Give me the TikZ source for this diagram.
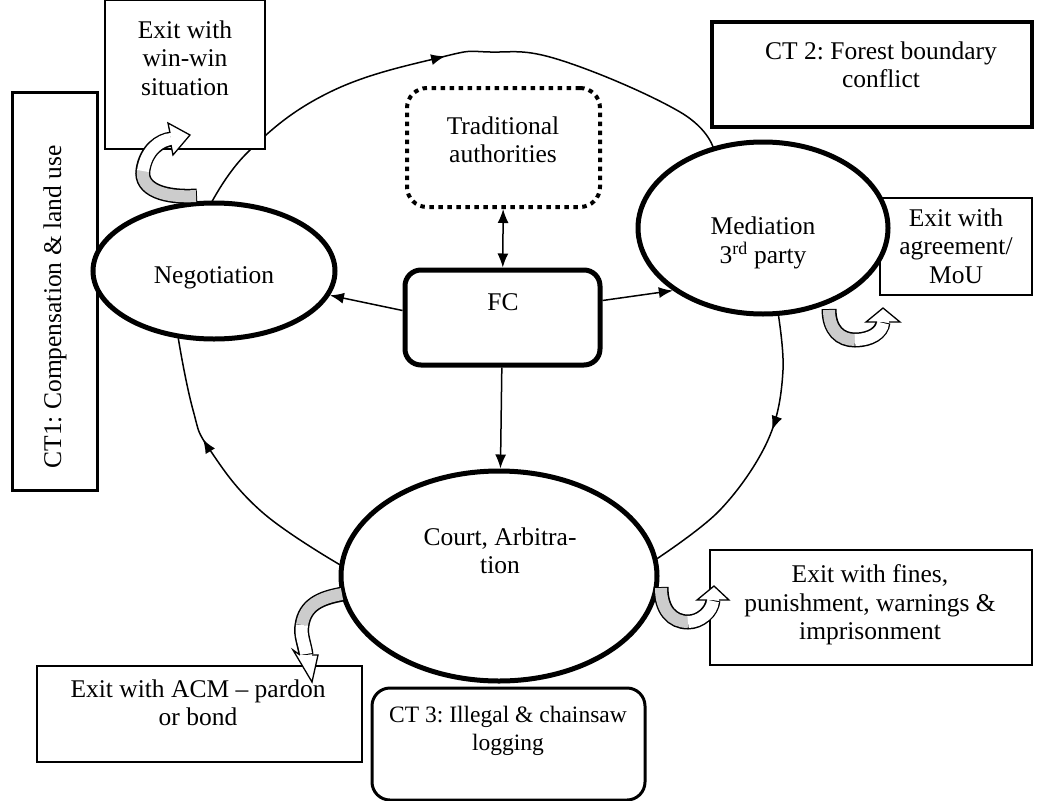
\documentclass[tikz,border=0pt]{standalone}
\usepackage{fontspec}
\setmainfont{Liberation Serif}
\usetikzlibrary{arrows.meta,decorations.markings,shapes.geometric}
\frenchspacing
\begin{document}
\begin{tikzpicture}[x=1pt,y=-1pt,
  txt/.style={font=\fontsize{25.5}{28.5}\selectfont, align=center, inner sep=0pt},
  thinbox/.style={draw, line width=1.5pt, fill=white, inner sep=0pt},
  thickbox/.style={draw, line width=3.5pt, fill=white, inner sep=0pt},
  ell/.style={draw, ellipse, line width=5pt, fill=white, inner sep=0pt},
  cyc/.style={line width=1.5pt},
  tip/.style={-{Latex[length=14pt,width=11pt]}},
  midtip/.style={postaction={decorate}, decoration={markings,
     mark=at position #1 with {\arrow{Latex[length=14pt,width=11pt]}}}},
  ribbon/.style={line width=15pt, line cap=butt},
  ribbonfill/.style={line width=12pt, line cap=butt},
]
\useasboundingbox (0,0) rectangle (1051,800);

% ---------- cycle arcs (drawn first, ellipses cover their ends) ----------
\coordinate (t0) at (205,215);
\coordinate (t9) at (714,150);
\draw[cyc, midtip=0.5] plot[smooth, tension=0.7] coordinates
  {(t0) (247,153) (330,92) (442,57) (490,52) (560,60) (680,112) (t9)};
\coordinate (r0) at (776,300);
\coordinate (r9) at (652,562);
\draw[cyc, midtip=0.42] plot[smooth, tension=0.6] coordinates
  {(r0) (783,370) (768,440) (720,510) (r9)};
\coordinate (l0) at (342,566);
\coordinate (l9) at (180,322);
\draw[cyc, midtip=0.6] plot[smooth, tension=0.7] coordinates
  {(l0) (262,512) (210,450) (193,410) (177,330) (l9)};

% ---------- boxes ----------
\node[thinbox, minimum width=160pt, minimum height=149pt] (winwin) at (185,74.5) {};
\node[txt] (winwinT) at (185,58) {Exit with\\win-win\\situation};

\node[thickbox, line width=3pt, minimum width=85pt, minimum height=398pt] (ct1) at (54.5,291) {};
\node[txt, rotate=90] (ct1T) at (55,307) {CT1: Compensation \& land use};

\node[thickbox, line width=4pt, minimum width=320pt, minimum height=105pt] (ct2) at (872,74.5) {};
\node[txt] (ct2T) at (881,65) {CT 2: Forest boundary\\conflict};

\node[draw, line width=4pt, dash pattern=on 4.5pt off 4.5pt, rounded corners=20pt,
      fill=white, minimum width=193pt, minimum height=119pt] (trad) at (503.5,147.5) {};
\node[txt] (tradT) at (503,140) {Traditional\\authorities};

\node[draw, line width=5pt, rounded corners=16pt, fill=white,
      minimum width=195pt, minimum height=95pt] (fc) at (502.5,317.5) {};
\node[txt] (fcT) at (503,302) {FC};

\node[thinbox, minimum width=152pt, minimum height=97pt] (agree) at (956,246.5) {};
\node[txt] (agreeT) at (956,246) {Exit with\\agreement/\\MoU};

\node[thinbox, minimum width=322pt, minimum height=115pt] (fines) at (871,607.5) {};
\node[txt] (finesT) at (870,605) {Exit with fines,\\punishment, warnings \&\\imprisonment};

\node[thinbox, minimum width=325pt, minimum height=96pt] (acm) at (199.5,714) {};
\node[txt] (acmT) at (198,703) {Exit with ACM -- pardon\\or bond};

\node[draw, line width=3pt, rounded corners=18pt, fill=white,
      minimum width=273pt, minimum height=112pt] (ct3) at (508.5,744) {};
\node[txt, font=\fontsize{23.5}{28.5}\selectfont] (ct3T) at (508,731) {CT 3: Illegal \& chainsaw\\logging};

% ---------- ellipses ----------
\node[ell, minimum width=242pt, minimum height=136pt] (neg) at (214,271) {};
\node[txt] (negT) at (214,278) {Negotiation};

\node[ell, minimum width=250pt, minimum height=172pt] (med) at (763,228) {};
\node[txt] (medT) at (763,243) {Mediation\\3\textsuperscript{rd} party};

\node[ell, minimum width=316pt, minimum height=210pt] (court) at (499,576) {};
\node[txt] (courtT) at (500,551) {Court, Arbitra-\\tion};

% ---------- connectors from FC ----------
\draw[cyc, {Latex[length=14pt,width=11pt]}-{Latex[length=14pt,width=11pt]}] (trad) -- (fc);
\draw[cyc, tip] ([yshift=7pt]fc.west) -- (neg);
\draw[cyc, tip] ([yshift=17pt]fc.east) -- (med.south west);
\draw[cyc, tip] (fc) -- (court);

% ---------- exit arrows (twisted ribbons) ----------
% negotiation exit
\draw[ribbon] (197,196) .. controls (165,198) and (140,190) .. (143,170)
              .. controls (146,150) and (160,140) .. (172,139);
\draw[ribbonfill, gray!40] (196,196) .. controls (165,198) and (140,190) .. (143,170);
\draw[ribbonfill, white] (143,171) .. controls (146,150) and (160,140) .. (171,139);
\draw[line width=1.3pt, fill=white, line join=miter]
  (170,133) -- (168,123) -- (190,135) -- (173,155) -- (171,145);
% mediation exit
\draw[ribbon] (829,309) .. controls (829,330) and (840,340) .. (855,340)
              .. controls (870,340) and (882,333) .. (883,322);
\draw[ribbonfill, gray!40] (829,310) .. controls (829,330) and (840,340) .. (855,340);
\draw[ribbonfill, white] (855,340) .. controls (870,340) and (882,333) .. (883,323);
\draw[line width=1.3pt, fill=white, line join=miter]
  (877,322) -- (866,322) -- (883,308) -- (900,322) -- (889,322);
% court exit, right
\draw[ribbon] (661,587) .. controls (661,610) and (672,622) .. (688,622)
              .. controls (700,622) and (712,612) .. (713,600);
\draw[ribbonfill, gray!40] (661,588) .. controls (661,610) and (672,622) .. (688,622);
\draw[ribbonfill, white] (688,622) .. controls (700,622) and (712,612) .. (713,601);
\draw[line width=1.3pt, fill=white, line join=miter]
  (707,600) -- (697,600) -- (714,586) -- (729,600) -- (719,600);
% court exit, left
\draw[ribbon] (343,594) .. controls (320,598) and (305,605) .. (302,625)
              .. controls (300,635) and (305,645) .. (306,655);
\draw[ribbonfill, gray!40] (342,594) .. controls (320,598) and (305,605) .. (302,625);
\draw[ribbonfill, white] (302,625) .. controls (300,635) and (305,645) .. (306,654);
\draw[line width=1.3pt, fill=white, line join=miter]
  (300,655) -- (293,650) -- (312,682) -- (318,655) -- (312,655);
\end{tikzpicture}
\end{document}
